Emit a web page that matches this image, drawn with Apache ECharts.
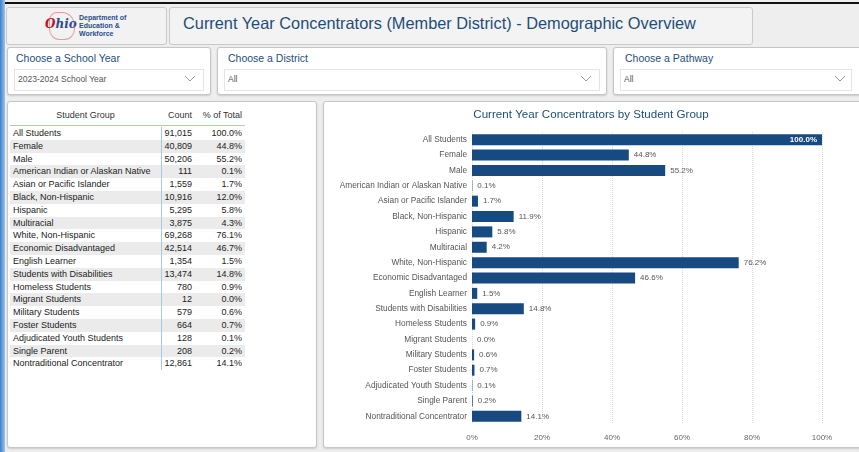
<!DOCTYPE html>
<html><head><meta charset="utf-8">
<script src="https://cdn.jsdelivr.net/npm/echarts@6/dist/echarts.min.js"></script>
<style>
html,body{margin:0;padding:0;width:859px;height:452px;overflow:hidden;background:#eeeeee;font-family:Arial,"Liberation Sans",sans-serif;}
.abs{position:absolute;box-sizing:border-box;}
.box{background:#f4f4f4;border:1px solid #c9c9c9;border-radius:3px;}
.panel{background:#fff;border:1px solid #c6c6c6;border-radius:3px;box-shadow:0 1px 2px rgba(0,0,0,0.15);}
.flabel{color:#1f4e79;font-size:10.5px;position:absolute;left:8px;top:4px;white-space:nowrap;}
.dd{position:absolute;left:6px;right:6px;top:21px;height:20px;background:#fff;border:1px solid #e4e4e4;font-size:8.5px;color:#555;line-height:19px;padding-left:3px;}
.dd svg{position:absolute;right:8px;top:6px;}
table{border-collapse:collapse;font-size:9px;color:#222;}
td{padding:0 3px;height:12.8px;line-height:12.8px;white-space:nowrap;}
tr.alt td{background:#ebebeb;}
</style></head><body>
<div class="abs" style="left:0;top:0;width:5px;height:452px;background:linear-gradient(90deg,#3d7fc9,#9cc3ea);"></div>
<div class="abs" style="left:5px;top:2px;width:854px;height:2px;background:#111;"></div>
<div class="abs box" style="left:6px;top:7px;width:161px;height:38px;background:#f2f2f2;">
  <div style="position:absolute;left:38px;top:9px;font-family:'DejaVu Serif',serif;font-style:italic;font-size:12px;color:#2a4d8f;font-weight:bold;">
    <span style="color:#c8102e;">O</span>hio</div>
  <div style="position:absolute;left:42px;top:4px;width:24px;height:26px;border:1px solid #d33;border-radius:30% 50% 40% 40%;opacity:0.45;"></div>
  <div style="position:absolute;left:72px;top:6px;font-size:7px;line-height:8px;font-weight:bold;color:#2a4d8f;">Department of<br>Education &amp;<br>Workforce</div>
</div>
<div class="abs box" style="left:169px;top:7px;width:584px;height:38px;background:#f3f3f3;">
  <div style="position:absolute;left:13px;top:6px;font-size:16.5px;color:#1f4e79;white-space:nowrap;transform:scaleX(0.99);transform-origin:0 0;">Current Year Concentrators (Member District) - Demographic Overview</div>
</div>
<div class="abs panel" style="left:7px;top:47px;width:204px;height:48px;">
  <div class="flabel">Choose a School Year</div>
  <div class="dd">2023-2024 School Year<svg width="10" height="6"><polyline points="0,0 5,5 10,0" fill="none" stroke="#999" stroke-width="1"/></svg></div>
</div>
<div class="abs panel" style="left:217px;top:47px;width:390px;height:48px;">
  <div class="flabel" style="left:10px;">Choose a District</div>
  <div class="dd">All<svg width="10" height="6"><polyline points="0,0 5,5 10,0" fill="none" stroke="#999" stroke-width="1"/></svg></div>
</div>
<div class="abs panel" style="left:613px;top:47px;width:250px;height:48px;">
  <div class="flabel" style="left:11px;">Choose a Pathway</div>
  <div class="dd" style="right:10px;">All<svg width="10" height="6" style="right:6px;"><polyline points="0,0 5,5 10,0" fill="none" stroke="#999" stroke-width="1"/></svg></div>
</div>
<div class="abs panel" style="left:7px;top:101px;width:310px;height:347px;">
  <div id="tbl" style="position:absolute;left:2px;top:5px;"></div>
</div>
<div class="abs panel" style="left:323px;top:101px;width:540px;height:347px;"></div>
<div id="chart" class="abs" style="left:323px;top:101px;width:536px;height:347px;"></div>
<script>
const groups = ["All Students","Female","Male","American Indian or Alaskan Native","Asian or Pacific Islander","Black, Non-Hispanic","Hispanic","Multiracial","White, Non-Hispanic","Economic Disadvantaged","English Learner","Students with Disabilities","Homeless Students","Migrant Students","Military Students","Foster Students","Adjudicated Youth Students","Single Parent","Nontraditional Concentrator"];
const counts = ["91,015","40,809","50,206","111","1,559","10,916","5,295","3,875","69,268","42,514","1,354","13,474","780","12","579","664","128","208","12,861"];
const tablePct = ["100.0%","44.8%","55.2%","0.1%","1.7%","12.0%","5.8%","4.3%","76.1%","46.7%","1.5%","14.8%","0.9%","0.0%","0.6%","0.7%","0.1%","0.2%","14.1%"];
const chartPct = [100.0,44.8,55.2,0.1,1.7,11.9,5.8,4.2,76.2,46.6,1.5,14.8,0.9,0.0,0.6,0.7,0.1,0.2,14.1];
const xTicks = [0,20,40,60,80,100];

// table
let h = '<table><tr style="color:#333;"><td style="width:145px;text-align:center;height:17px;">Student Group</td><td style="width:27px;text-align:right;">Count</td><td style="width:44px;text-align:right;">% of Total</td></tr>';
h += '<tr><td colspan="3" style="height:3px;line-height:0;padding:0;"><div style="height:1px;background:#a9c8e4;"></div></td></tr>';
groups.forEach((g,i)=>{
  h += '<tr class="'+(i%2?'alt':'')+'"><td>'+g+'</td><td style="text-align:right;border-left:1px solid #a9c8e4;">'+counts[i]+'</td><td style="text-align:right;">'+tablePct[i]+'</td></tr>';
});
h += '</table>';
document.getElementById('tbl').innerHTML = h;

const chart = echarts.init(document.getElementById('chart'));
chart.setOption({
  animation:false,
  title:{text:'Current Year Concentrators by Student Group',left:'center',top:3,textStyle:{color:'#1f4e79',fontSize:11.6,fontWeight:'normal',fontFamily:'Arial'}},
  grid:{left:149,right:37,top:31,bottom:24},
  xAxis:{type:'value',min:xTicks[0],max:xTicks[xTicks.length-1],interval:xTicks[1]-xTicks[0],
    axisLabel:{formatter:'{value}%',color:'#666',fontSize:8,margin:10},
    axisLine:{show:false},axisTick:{show:false},
    splitLine:{show:true,lineStyle:{type:'dotted',color:'#d8d8d8'}}},
  yAxis:{type:'category',inverse:true,data:groups,
    axisLine:{show:false},axisTick:{show:false},
    axisLabel:{color:'#555',fontSize:8.3,margin:5}},
  series:[{type:'bar',barWidth:11,
    itemStyle:{color:'#174a80'},
    label:{show:true,position:'right',distance:5,color:'#555',fontSize:8,formatter:p=>p.value.toFixed(1)+'%'},
    data:chartPct.map((v,i)=> i===0 ? {value:v,label:{position:'insideRight',color:'#fff',fontWeight:'bold'}} : v)
  }]
});
</script>
</body></html>
